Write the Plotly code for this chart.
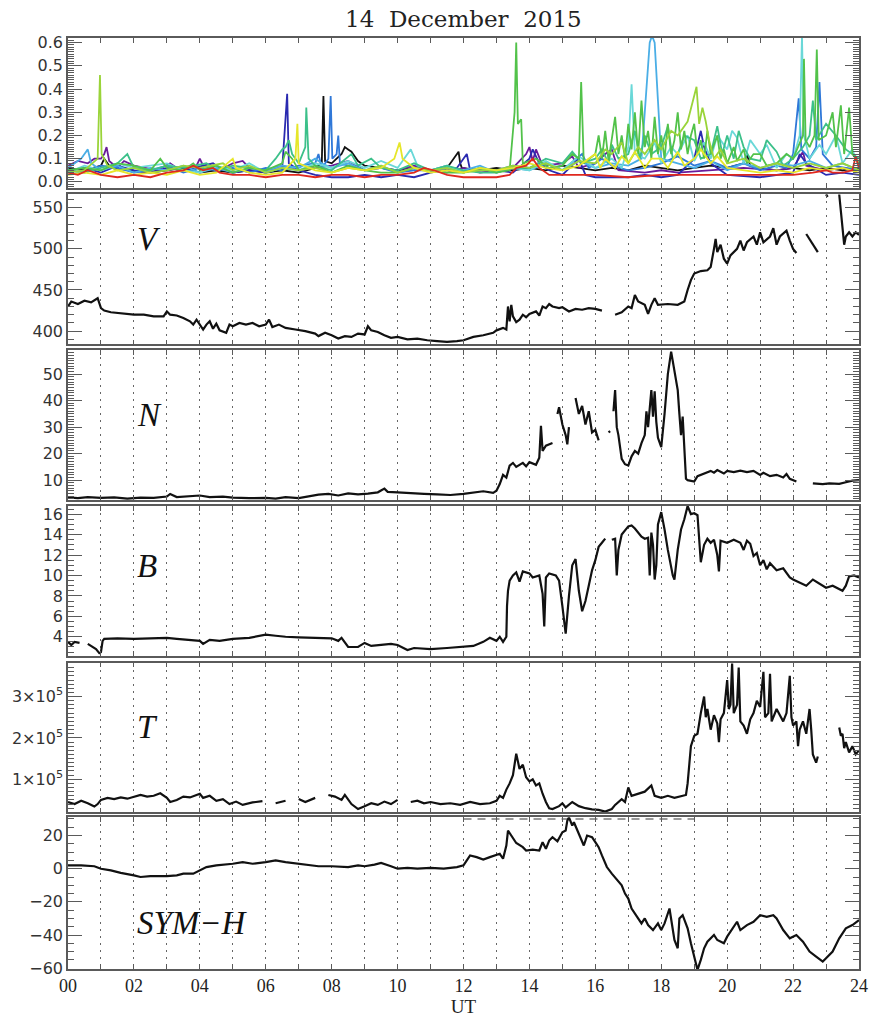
import plotly.graph_objects as go

# ---------------- DATA (hours UT) ----------------
hours_labels = ["00", "02", "04", "06", "08", "10", "12", "14", "16", "18", "20", "22", "24"]
hours_ticks = [0, 2, 4, 6, 8, 10, 12, 14, 16, 18, 20, 22, 24]

# top panel: multi-coloured series
series_black = [(0,0.06),(0.5,0.05),(1.0,0.07),(1.1,0.1),(1.3,0.06),(2,0.05),(2.5,0.04),(3,0.05),(3.5,0.06),(4,0.04),(4.5,0.05),(5,0.04),(5.5,0.05),(6,0.04),(6.5,0.05),(7,0.04),(7.5,0.06),(7.7,0.08),(7.75,0.37),(7.8,0.09),(8.0,0.08),(8.3,0.12),(8.4,0.15),(8.5,0.14),(8.6,0.13),(8.8,0.09),(9,0.07),(9.5,0.06),(10,0.05),(10.5,0.06),(11,0.05),(11.5,0.06),(11.85,0.13),(11.9,0.08),(11.95,0.06),(12.5,0.05),(13,0.06),(13.5,0.05),(14,0.06),(14.5,0.05),(15,0.07),(15.5,0.06),(16,0.05),(16.5,0.06),(17,0.05),(17.5,0.07),(18,0.06),(18.5,0.05),(19,0.06),(19.5,0.07),(20,0.06),(20.5,0.08),(20.6,0.12),(20.7,0.07),(21,0.06),(21.5,0.05),(22,0.06),(22.5,0.05),(23,0.06),(23.5,0.05),(24,0.06)]
series_purple = [(0,0.07),(0.3,0.09),(0.6,0.08),(0.8,0.1),(1.0,0.1),(1.1,0.12),(1.17,0.15),(1.25,0.09),(1.5,0.06),(1.7,0.09),(2,0.07),(2.4,0.06),(2.7,0.05),(3.1,0.08),(3.3,0.06),(3.9,0.07),(4.0,0.1),(4.1,0.07),(4.6,0.05),(5.0,0.08),(5.3,0.09),(5.5,0.06),(6,0.05),(6.5,0.07),(7,0.05),(7.5,0.06),(8,0.07),(8.5,0.09),(9,0.05),(9.5,0.06),(10,0.05),(10.5,0.07),(11,0.05),(11.5,0.04),(12,0.06),(12.5,0.04),(13,0.05),(13.5,0.06),(13.9,0.12),(14.0,0.15),(14.1,0.09),(14.2,0.14),(14.4,0.07),(15,0.08),(15.3,0.11),(15.5,0.06),(16.0,0.08),(16.3,0.12),(16.5,0.14),(16.7,0.05),(17.5,0.04),(18,0.05),(18.5,0.04),(19.5,0.05),(20.5,0.06),(21.5,0.05),(22,0.06),(22.3,0.13),(22.4,0.07),(23,0.05),(23.5,0.06),(24,0.05)]
series_darkblue = [(0,0.05),(0.5,0.06),(1,0.04),(1.5,0.07),(2,0.05),(2.5,0.04),(3,0.06),(3.5,0.05),(4.4,0.08),(4.6,0.06),(5.0,0.04),(5.5,0.05),(6,0.04),(6.5,0.06),(6.65,0.38),(6.7,0.08),(7.0,0.05),(7.5,0.03),(8,0.02),(8.5,0.02),(9,0.03),(9.5,0.02),(10,0.03),(10.5,0.02),(11,0.04),(11.8,0.06),(12.1,0.12),(12.2,0.05),(13,0.05),(13.5,0.04),(14.0,0.1),(14.1,0.14),(14.3,0.08),(14.6,0.05),(15,0.03),(15.5,0.1),(15.7,0.03),(16,0.02),(16.5,0.02),(17,0.02),(17.5,0.03),(18,0.02),(18.5,0.03),(19.0,0.1),(19.2,0.22),(19.3,0.15),(19.5,0.08),(20,0.03),(21,0.02),(21.5,0.03),(22,0.04),(22.2,0.12),(22.4,0.08),(23,0.03),(23.5,0.04),(24,0.03)]
series_blue = [(0,0.05),(0.5,0.04),(1.0,0.07),(1.5,0.06),(2.0,0.04),(2.5,0.05),(3.0,0.07),(3.5,0.04),(4.0,0.06),(4.5,0.05),(5.0,0.06),(5.5,0.04),(6.0,0.06),(6.5,0.05),(7.0,0.07),(7.5,0.08),(7.6,0.12),(7.7,0.06),(7.9,0.1),(7.97,0.37),(8.02,0.1),(8.15,0.12),(8.2,0.2),(8.25,0.08),(8.5,0.07),(9,0.05),(9.5,0.06),(10,0.04),(10.5,0.05),(11,0.05),(11.5,0.07),(12,0.04),(12.5,0.06),(13,0.05),(13.5,0.07),(14,0.06),(14.5,0.08),(15,0.05),(15.6,0.12),(15.8,0.06),(16.2,0.1),(16.5,0.07),(17,0.05),(17.5,0.06),(18,0.08),(18.5,0.11),(19,0.07),(19.5,0.09),(20,0.06),(20.5,0.08),(21,0.05),(21.5,0.07),(21.8,0.06),(22.0,0.12),(22.17,0.36),(22.25,0.14),(22.5,0.1),(22.7,0.15),(22.8,0.43),(22.9,0.12),(23.2,0.07),(23.6,0.06),(24,0.05)]
series_lightblue = [(0,0.06),(0.4,0.1),(0.6,0.14),(0.7,0.08),(1,0.05),(1.5,0.07),(2,0.04),(2.5,0.06),(3,0.05),(3.5,0.07),(4,0.04),(4.5,0.06),(5,0.04),(5.5,0.06),(6,0.05),(6.5,0.07),(7,0.06),(7.5,0.1),(7.7,0.08),(8,0.06),(8.5,0.08),(9,0.05),(9.5,0.07),(10,0.04),(10.5,0.06),(11,0.05),(11.5,0.06),(12,0.05),(12.5,0.07),(13,0.04),(13.5,0.06),(14,0.05),(14.5,0.08),(15,0.05),(15.5,0.09),(16,0.06),(16.5,0.08),(17,0.07),(17.4,0.1),(17.55,0.4),(17.65,0.6),(17.72,0.63),(17.8,0.6),(17.9,0.35),(18.0,0.1),(18.5,0.08),(19,0.06),(19.5,0.09),(20,0.05),(20.5,0.08),(21,0.06),(21.5,0.08),(22,0.07),(22.5,0.09),(23,0.06),(23.5,0.08),(24,0.05)]
series_cyan = [(0,0.04),(0.5,0.07),(1,0.05),(1.5,0.08),(2,0.06),(3,0.08),(3.5,0.05),(4,0.04),(4.5,0.07),(5,0.05),(5.5,0.08),(6,0.04),(6.5,0.06),(7,0.05),(7.5,0.08),(8,0.06),(8.5,0.09),(9,0.06),(9.5,0.09),(10,0.06),(10.4,0.14),(10.6,0.07),(11,0.05),(11.5,0.07),(12,0.04),(12.5,0.06),(13,0.04),(13.5,0.06),(14,0.05),(14.5,0.09),(15,0.05),(15.5,0.11),(16,0.06),(16.5,0.1),(16.8,0.06),(17.0,0.15),(17.1,0.42),(17.2,0.12),(17.5,0.1),(17.8,0.17),(18,0.08),(18.3,0.15),(18.5,0.12),(18.8,0.2),(19,0.09),(19.3,0.17),(19.5,0.1),(19.7,0.2),(20,0.14),(20.15,0.22),(20.3,0.19),(20.5,0.08),(20.7,0.18),(21,0.12),(21.2,0.16),(21.5,0.06),(21.8,0.12),(22,0.1),(22.2,0.2),(22.27,0.63),(22.33,0.2),(22.5,0.1),(22.8,0.16),(23,0.12),(23.3,0.2),(23.5,0.08),(23.8,0.14),(24,0.06)]
series_teal = [(0,0.05),(0.5,0.04),(1.0,0.06),(1.5,0.08),(1.8,0.12),(2,0.06),(2.5,0.05),(3.0,0.07),(3.5,0.06),(4.2,0.08),(4.5,0.05),(5.0,0.07),(5.5,0.06),(6.0,0.05),(6.3,0.1),(6.5,0.14),(6.6,0.15),(6.7,0.18),(6.8,0.12),(7.0,0.08),(7.2,0.15),(7.23,0.32),(7.3,0.1),(7.5,0.07),(8.0,0.05),(8.6,0.12),(8.8,0.07),(9.2,0.1),(9.5,0.06),(10.0,0.05),(10.5,0.08),(11,0.05),(11.5,0.07),(12,0.05),(12.5,0.04),(13,0.04),(13.5,0.06),(14,0.06),(14.5,0.1),(15,0.08),(15.3,0.13),(15.6,0.08),(16,0.1),(16.2,0.14),(16.4,0.08),(16.5,0.16),(16.7,0.1),(17,0.12),(17.2,0.22),(17.35,0.1),(17.5,0.2),(17.7,0.12),(18,0.15),(18.2,0.24),(18.35,0.1),(18.5,0.12),(18.7,0.2),(19,0.18),(19.2,0.1),(19.5,0.12),(19.7,0.24),(19.85,0.12),(20,0.2),(20.2,0.1),(20.35,0.22),(20.5,0.15),(20.7,0.1),(21,0.09),(21.2,0.18),(21.5,0.13),(21.7,0.07),(22,0.1),(22.3,0.15),(22.5,0.2),(22.6,0.35),(22.7,0.18),(23,0.25),(23.3,0.2),(23.6,0.14),(24,0.1)]
series_green = [(0,0.05),(0.5,0.06),(1,0.05),(1.5,0.08),(2,0.07),(2.5,0.05),(2.8,0.1),(3,0.06),(3.5,0.05),(3.8,0.08),(4,0.05),(4.5,0.07),(5,0.04),(5.5,0.06),(6,0.05),(6.5,0.08),(6.6,0.13),(6.8,0.1),(7,0.05),(7.5,0.07),(8,0.04),(8.5,0.07),(9,0.05),(9.5,0.04),(10,0.04),(10.5,0.06),(11,0.05),(11.5,0.04),(12,0.04),(12.5,0.06),(13,0.04),(13.4,0.05),(13.55,0.3),(13.6,0.6),(13.65,0.25),(13.75,0.27),(13.8,0.08),(14.2,0.1),(14.6,0.06),(15,0.07),(15.3,0.12),(15.5,0.1),(15.57,0.43),(15.65,0.08),(16.0,0.12),(16.1,0.2),(16.2,0.1),(16.3,0.22),(16.4,0.09),(16.5,0.18),(16.6,0.28),(16.7,0.12),(16.8,0.2),(16.9,0.1),(17.0,0.25),(17.1,0.14),(17.2,0.3),(17.3,0.12),(17.4,0.35),(17.5,0.15),(17.6,0.22),(17.7,0.1),(17.8,0.28),(17.9,0.12),(18.0,0.2),(18.1,0.1),(18.2,0.25),(18.3,0.12),(18.4,0.18),(18.5,0.3),(18.6,0.14),(18.7,0.22),(18.8,0.12),(18.9,0.2),(19.0,0.25),(19.1,0.12),(19.2,0.18),(19.3,0.1),(19.4,0.22),(19.5,0.12),(19.6,0.16),(19.7,0.2),(19.8,0.1),(19.9,0.14),(20.0,0.08),(20.2,0.15),(20.3,0.09),(20.5,0.14),(20.6,0.08),(20.8,0.12),(21,0.12),(21.2,0.07),(21.5,0.08),(21.8,0.12),(22,0.1),(22.3,0.2),(22.33,0.53),(22.38,0.18),(22.5,0.15),(22.65,0.2),(22.72,0.57),(22.78,0.18),(23,0.2),(23.2,0.3),(23.3,0.15),(23.45,0.33),(23.55,0.12),(23.7,0.32),(23.8,0.12),(24,0.08)]
series_yellowgreen = [(0,0.04),(0.5,0.05),(0.9,0.1),(0.97,0.46),(1.02,0.12),(1.2,0.07),(1.5,0.05),(2,0.06),(2.5,0.04),(3,0.05),(3.5,0.07),(4,0.06),(4.7,0.08),(5,0.05),(5.5,0.07),(6,0.04),(6.5,0.06),(7,0.05),(7.5,0.06),(8,0.04),(8.5,0.06),(9,0.05),(9.5,0.07),(10,0.04),(10.5,0.06),(11,0.05),(11.5,0.06),(12,0.04),(12.5,0.05),(13,0.05),(13.5,0.07),(14,0.06),(14.5,0.08),(15,0.05),(15.5,0.09),(16,0.08),(16.3,0.14),(16.5,0.12),(16.8,0.17),(17,0.08),(17.3,0.15),(17.5,0.12),(17.8,0.18),(18,0.14),(18.3,0.22),(18.5,0.2),(18.8,0.26),(19.0,0.38),(19.07,0.41),(19.15,0.25),(19.25,0.32),(19.35,0.26),(19.45,0.18),(19.6,0.1),(19.8,0.14),(20,0.08),(20.5,0.1),(21,0.06),(21.5,0.08),(22,0.06),(22.5,0.08),(23,0.06),(23.5,0.08),(24,0.05)]
series_yellow = [(0,0.03),(0.5,0.04),(1,0.03),(1.5,0.05),(2,0.03),(2.5,0.04),(3,0.03),(3.5,0.05),(4,0.03),(4.5,0.04),(5.0,0.1),(5.1,0.06),(5.5,0.04),(6,0.03),(6.5,0.04),(6.9,0.1),(6.96,0.25),(7.0,0.08),(7.5,0.05),(8,0.04),(8.5,0.06),(9,0.05),(9.5,0.06),(9.9,0.1),(10.06,0.17),(10.15,0.1),(10.5,0.06),(11,0.04),(11.5,0.05),(12,0.04),(12.5,0.06),(13,0.05),(13.5,0.06),(14,0.08),(14.5,0.06),(15,0.05),(15.5,0.07),(16,0.12),(16.15,0.06),(16.3,0.1),(16.6,0.06),(16.8,0.11),(17,0.08),(17.2,0.13),(17.5,0.06),(17.7,0.1),(18,0.1),(18.2,0.06),(18.5,0.13),(18.7,0.07),(19,0.1),(19.2,0.14),(19.5,0.08),(19.7,0.11),(20,0.06),(20.5,0.05),(21,0.04),(21.5,0.05),(22,0.04),(22.5,0.06),(23,0.05),(23.5,0.06),(24,0.04)]
series_red = [(0,0.04),(0.3,0.03),(0.6,0.05),(1.0,0.03),(1.5,0.02),(2.0,0.03),(2.5,0.02),(3.0,0.04),(3.5,0.05),(3.8,0.07),(4.1,0.05),(4.4,0.06),(4.6,0.04),(5,0.03),(5.5,0.03),(6,0.02),(6.5,0.03),(7,0.03),(7.5,0.02),(8,0.03),(8.5,0.03),(9,0.02),(9.5,0.03),(10,0.03),(10.5,0.04),(10.8,0.06),(11.1,0.05),(11.5,0.03),(12,0.02),(12.5,0.02),(13,0.02),(13.4,0.03),(13.6,0.06),(13.9,0.07),(14.1,0.1),(14.3,0.06),(14.6,0.03),(15,0.03),(16,0.03),(17,0.02),(18,0.03),(19,0.03),(20,0.03),(21,0.03),(22,0.03),(22.6,0.04),(23,0.05),(23.2,0.04),(23.5,0.04),(23.8,0.05),(23.9,0.11),(24,0.06)]

top_series = [
    ("black", series_black, "#111111"),
    ("purple", series_purple, "#6a1b9a"),
    ("darkblue", series_darkblue, "#2a2ab0"),
    ("blue", series_blue, "#2f78d8"),
    ("lightblue", series_lightblue, "#4aaee6"),
    ("cyan", series_cyan, "#6ad8d8"),
    ("teal", series_teal, "#3cc08a"),
    ("green", series_green, "#52c24a"),
    ("yellowgreen", series_yellowgreen, "#9ad43a"),
    ("yellow", series_yellow, "#e6e62a"),
    ("red", series_red, "#e0281e"),
]

V = [(0,430),(0.1,436),(0.3,433),(0.5,437),(0.7,435),(0.9,440),(1.0,428),(1.1,425),(1.3,423),(1.5,422),(1.8,421),(2.0,420),(2.3,420),(2.6,418),(2.9,418),(3.0,424),(3.1,420),(3.3,419),(3.5,416),(3.7,412),(3.8,408),(3.9,414),(4.1,402),(4.2,408),(4.3,412),(4.4,403),(4.5,409),(4.6,401),(4.8,398),(4.9,408),(5.0,406),(5.2,410),(5.4,408),(5.6,410),(5.8,406),(6.0,408),(6.1,414),(6.2,405),(6.4,408),(6.6,404),(6.9,402),(7.2,400),(7.5,397),(7.6,394),(7.8,398),(8.0,395),(8.2,391),(8.4,394),(8.6,393),(8.8,397),(9.0,396),(9.1,406),(9.2,401),(9.4,399),(9.6,395),(9.8,392),(10.0,393),(10.3,390),(10.6,391),(10.9,389),(11.2,388),(11.5,387),(11.8,388),(12.0,389),(12.3,393),(12.6,395),(12.9,398),(13.0,401),(13.2,404),(13.3,402),(13.35,430),(13.4,412),(13.45,432),(13.5,418),(13.6,411),(13.7,414),(13.8,420),(13.9,417),(14.0,421),(14.2,424),(14.3,419),(14.4,430),(14.5,428),(14.6,433),(14.7,430),(14.9,428),(15.0,429),(15.2,424),(15.4,427),(15.6,426),(15.8,428),(16.0,427),(16.2,425),(16.4,None),(16.6,420),(16.8,423),(17.0,430),(17.1,428),(17.2,444),(17.3,436),(17.5,432),(17.6,421),(17.7,432),(17.8,440),(17.9,432),(18.2,433),(18.5,432),(18.7,436),(18.8,450),(18.9,462),(19.0,470),(19.2,473),(19.4,474),(19.5,478),(19.6,500),(19.65,512),(19.7,496),(19.8,505),(19.9,488),(20.0,482),(20.1,492),(20.3,500),(20.4,510),(20.5,498),(20.6,508),(20.8,515),(20.9,505),(21.0,520),(21.1,508),(21.3,515),(21.4,525),(21.5,505),(21.6,515),(21.7,518),(21.8,522),(21.9,510),(22.0,500),(22.1,495),(22.2,None),(22.4,518),(22.5,512),(22.6,505),(22.7,500),(22.75,496),(22.8,None),(23.0,566),(23.05,563),(23.1,None),(23.4,566),(23.45,545),(23.5,520),(23.55,505),(23.6,515),(23.7,520),(23.8,515),(23.9,520),(24.0,517)]

N = [(0,3.5),(0.3,3.2),(0.6,3.6),(1.0,3.3),(1.4,3.5),(1.8,3.0),(2.2,3.4),(2.6,3.3),(3.0,3.8),(3.1,4.8),(3.3,3.6),(3.6,3.8),(4.0,4.2),(4.3,3.6),(4.7,3.8),(5.0,3.4),(5.5,3.2),(6.0,3.3),(6.3,3.0),(6.6,3.6),(7.0,3.2),(7.3,3.9),(7.6,4.5),(7.9,4.8),(8.2,4.2),(8.5,5.0),(8.8,4.6),(9.1,4.9),(9.4,5.4),(9.6,6.8),(9.7,5.6),(10.0,5.4),(10.4,5.0),(10.8,4.8),(11.2,4.6),(11.6,4.4),(12.0,4.8),(12.3,5.2),(12.6,5.8),(12.9,5.2),(13.0,6.0),(13.1,8.5),(13.2,12.0),(13.3,11.0),(13.4,15.5),(13.5,16.5),(13.6,15.0),(13.8,16.5),(13.9,15.2),(14.0,16.8),(14.2,15.8),(14.3,18.5),(14.35,30.5),(14.4,21.0),(14.5,23.0),(14.7,24.0),(14.8,None),(14.85,35.0),(14.9,37.5),(15.0,31.0),(15.1,27.0),(15.15,23.5),(15.2,30.0),(15.3,None),(15.4,41.0),(15.5,35.0),(15.6,38.0),(15.7,31.0),(15.8,36.0),(15.9,28.0),(16.0,29.0),(16.1,25.0),(16.2,None),(16.4,28.0),(16.45,28.5),(16.5,None),(16.55,36.0),(16.6,44.0),(16.65,30.0),(16.7,27.0),(16.8,18.0),(16.9,16.0),(17.0,15.5),(17.1,19.0),(17.2,21.0),(17.3,20.0),(17.4,24.0),(17.5,27.0),(17.55,36.0),(17.6,30.0),(17.7,44.0),(17.75,34.0),(17.8,43.5),(17.85,32.0),(17.9,26.0),(18.0,22.5),(18.1,35.0),(18.2,50.0),(18.3,58.5),(18.35,55.0),(18.4,50.0),(18.5,44.0),(18.55,35.0),(18.6,27.0),(18.65,34.0),(18.7,24.0),(18.75,10.5),(18.8,10.0),(19.0,9.5),(19.1,11.5),(19.3,12.5),(19.5,13.5),(19.6,12.8),(19.7,13.8),(19.9,12.5),(20.0,13.5),(20.2,13.0),(20.4,13.6),(20.6,13.0),(20.8,13.5),(21.0,12.0),(21.1,12.8),(21.3,11.5),(21.5,12.0),(21.7,11.0),(21.8,12.3),(21.9,10.5),(22.1,9.5),(22.4,None),(22.6,8.8),(22.9,8.5),(23.1,8.8),(23.4,8.6),(23.6,9.2),(23.8,9.8),(24.0,10.0)]

B = [(0,3.5),(0.1,3.2),(0.2,3.5),(0.35,3.4),(0.45,None),(0.6,3.3),(0.7,3.1),(0.85,2.8),(0.95,2.4),(1.0,2.5),(1.05,3.6),(1.1,3.8),(1.5,3.85),(2.0,3.8),(2.5,3.85),(3.0,3.9),(3.3,3.8),(3.6,3.7),(4.0,3.6),(4.1,3.3),(4.3,3.7),(4.6,3.6),(5.0,3.8),(5.5,3.9),(6.0,4.2),(6.3,4.1),(6.6,4.0),(7.0,3.95),(7.5,3.9),(8.0,3.85),(8.2,3.6),(8.3,3.9),(8.5,3.0),(8.8,3.0),(9.0,3.4),(9.2,3.1),(9.5,3.2),(9.8,3.3),(10.0,3.2),(10.3,2.7),(10.5,2.9),(11.0,2.8),(11.5,2.9),(12.0,3.0),(12.3,3.1),(12.6,3.5),(12.8,3.9),(13.0,3.6),(13.1,4.0),(13.2,3.5),(13.3,4.0),(13.32,7.0),(13.35,8.5),(13.4,9.5),(13.5,10.0),(13.6,10.3),(13.7,9.4),(13.8,10.4),(14.0,10.2),(14.1,9.8),(14.3,10.0),(14.4,8.2),(14.45,5.0),(14.5,9.8),(14.6,10.2),(14.8,10.0),(14.9,9.5),(15.0,7.0),(15.1,4.3),(15.2,8.0),(15.3,11.0),(15.4,11.6),(15.5,8.5),(15.6,6.5),(15.7,7.5),(15.8,9.0),(15.9,10.5),(16.0,11.5),(16.1,12.8),(16.2,13.2),(16.3,13.6),(16.4,None),(16.5,13.5),(16.6,13.6),(16.65,10.0),(16.7,12.5),(16.8,14.0),(17.0,14.8),(17.1,14.9),(17.2,14.6),(17.4,13.8),(17.5,13.6),(17.6,13.7),(17.65,10.0),(17.7,14.2),(17.75,13.0),(17.8,9.6),(17.85,11.0),(17.9,15.0),(18.0,16.2),(18.1,14.5),(18.2,12.5),(18.35,10.0),(18.4,9.6),(18.5,12.5),(18.6,14.5),(18.7,15.5),(18.8,16.8),(18.9,16.0),(19.0,16.1),(19.1,15.9),(19.2,11.3),(19.3,13.0),(19.4,13.6),(19.5,13.2),(19.6,13.5),(19.7,12.0),(19.75,10.4),(19.8,13.4),(20.0,13.2),(20.2,13.5),(20.4,13.2),(20.5,12.5),(20.6,13.4),(20.7,13.1),(20.8,11.9),(20.9,12.2),(21.0,11.0),(21.1,11.5),(21.2,10.6),(21.3,11.2),(21.5,10.5),(21.7,10.7),(21.9,9.8),(22.0,9.6),(22.2,9.3),(22.4,9.0),(22.6,9.6),(22.8,9.2),(23.0,8.8),(23.2,9.0),(23.4,8.7),(23.5,8.5),(23.6,9.0),(23.7,9.9),(23.85,10.0),(24.0,9.8)]

# temperature in units of 1e5 K
T = [(0,0.45),(0.2,0.40),(0.4,0.48),(0.6,0.42),(0.8,0.34),(0.9,0.40),(1.0,0.50),(1.2,0.55),(1.4,0.52),(1.6,0.56),(1.8,0.53),(2.0,0.58),(2.2,0.62),(2.4,0.58),(2.6,0.60),(2.8,0.66),(3.0,0.55),(3.1,0.45),(3.3,0.50),(3.5,0.58),(3.7,0.56),(3.9,0.62),(4.0,0.65),(4.1,0.55),(4.3,0.60),(4.5,0.48),(4.7,0.52),(4.9,0.40),(5.1,0.46),(5.3,0.38),(5.6,0.44),(5.9,0.47),(6.1,None),(6.3,0.42),(6.6,0.48),(6.8,None),(7.0,0.52),(7.2,0.45),(7.5,0.55),(7.7,None),(7.9,0.62),(8.1,0.58),(8.3,0.50),(8.4,0.62),(8.6,0.40),(8.8,0.28),(9.0,0.35),(9.2,0.42),(9.4,0.38),(9.6,0.46),(9.8,0.40),(10.0,0.50),(10.2,None),(10.4,0.45),(10.6,0.48),(10.8,0.42),(11.0,0.45),(11.3,0.40),(11.6,0.42),(11.9,0.38),(12.2,0.45),(12.5,0.40),(12.8,0.42),(13.0,0.48),(13.1,0.60),(13.2,0.55),(13.3,0.75),(13.4,0.90),(13.5,1.10),(13.6,1.62),(13.7,1.25),(13.8,1.35),(13.9,1.05),(14.0,0.95),(14.1,1.00),(14.2,0.85),(14.3,0.90),(14.4,0.65),(14.5,0.45),(14.6,0.30),(14.7,0.28),(14.9,0.35),(15.0,0.42),(15.1,0.32),(15.3,0.45),(15.5,0.35),(15.7,0.30),(15.9,0.27),(16.1,0.26),(16.3,0.22),(16.5,0.28),(16.6,0.38),(16.8,0.52),(16.9,0.45),(17.0,0.80),(17.1,0.60),(17.3,0.65),(17.5,0.70),(17.7,0.85),(17.8,0.60),(18.0,0.55),(18.2,0.60),(18.4,0.55),(18.6,0.58),(18.75,0.62),(18.8,0.90),(18.9,1.80),(19.0,2.05),(19.1,2.10),(19.2,2.60),(19.3,3.00),(19.35,2.50),(19.4,2.70),(19.5,2.20),(19.6,2.55),(19.7,2.35),(19.75,1.90),(19.8,2.45),(19.9,2.60),(20.0,3.40),(20.05,2.70),(20.1,2.80),(20.15,3.80),(20.2,2.60),(20.3,2.80),(20.35,3.70),(20.4,2.40),(20.5,2.30),(20.6,2.10),(20.7,2.45),(20.8,2.60),(20.9,2.90),(21.0,2.75),(21.1,3.60),(21.15,2.50),(21.25,2.60),(21.3,3.55),(21.35,2.40),(21.5,2.70),(21.6,2.55),(21.7,2.40),(21.8,2.60),(21.9,3.50),(21.95,2.50),(22.0,2.30),(22.1,2.40),(22.15,1.80),(22.2,2.20),(22.3,2.40),(22.4,2.10),(22.5,2.70),(22.55,2.20),(22.6,1.60),(22.7,1.40),(22.75,1.55),(22.8,None),(23.4,2.25),(23.45,2.05),(23.5,2.10),(23.55,1.75),(23.6,1.90),(23.7,1.65),(23.8,1.80),(23.9,1.60),(24.0,1.70)]
T_SCALE = 1e5

SYMH = [(0,2),(0.4,2),(0.8,1.5),(1.0,0),(1.3,-1),(1.6,-2.5),(2.0,-4),(2.2,-5),(2.5,-4.5),(3.0,-4.5),(3.3,-4),(3.5,-3),(3.8,-3),(4.0,-1),(4.2,1),(4.5,2),(4.8,2.5),(5.0,3),(5.3,4),(5.6,3),(6.0,4),(6.3,5),(6.6,4),(7.0,3),(7.3,2),(7.6,1.5),(8.0,1.5),(8.5,1),(8.8,2),(9.0,1.5),(9.3,2.5),(9.5,3.5),(9.8,1.5),(10.0,0),(10.3,0.5),(10.6,0),(11.0,0.5),(11.4,0),(11.8,1),(12.0,2),(12.1,5),(12.2,8),(12.4,7),(12.6,5.5),(12.8,7),(13.0,8.5),(13.1,9),(13.2,6),(13.3,14),(13.35,23),(13.45,20),(13.6,15.5),(13.8,13),(13.9,11),(14.1,11.5),(14.3,11),(14.4,16),(14.5,12),(14.6,17),(14.7,19),(14.85,16.5),(15.0,22),(15.1,23),(15.15,29),(15.2,31),(15.3,26),(15.35,28),(15.45,23),(15.55,19),(15.65,14),(15.75,20),(15.9,19),(16.0,16),(16.1,13),(16.2,8),(16.35,1),(16.5,-3),(16.7,-8),(16.8,-10),(16.9,-15),(17.0,-18),(17.1,-24),(17.2,-27),(17.3,-30),(17.4,-33),(17.5,-30),(17.6,-34),(17.75,-37),(17.9,-33),(18.0,-37),(18.1,-33),(18.25,-24),(18.3,-30),(18.4,-43),(18.5,-48),(18.55,-30),(18.65,-28),(18.8,-36),(18.9,-45),(19.0,-53),(19.1,-61),(19.2,-55),(19.3,-48),(19.4,-44),(19.6,-40),(19.7,-43),(19.9,-45),(20.0,-41),(20.2,-35),(20.3,-32),(20.4,-37),(20.6,-34),(20.8,-32),(21.0,-28),(21.2,-29),(21.4,-28),(21.5,-30),(21.7,-37),(21.9,-42),(22.1,-40),(22.3,-44),(22.5,-50),(22.7,-53),(22.9,-56),(23.0,-54),(23.2,-50),(23.4,-42),(23.6,-36),(23.8,-34),(24.0,-31)]
SYMH_REF_T = [12.0, 19.0]
SYMH_REF_V = [30, 30]

panel_labels = ["V", "N", "B", "T", "SYM−H"]
T_tickvals = [1e5, 2e5, 3e5]
T_ticktext = ["1×10<sup>5</sup>", "2×10<sup>5</sup>", "3×10<sup>5</sup>"]


def unzip(pts, scale=1.0):
    xs = [p[0] for p in pts]
    ys = [None if p[1] is None else p[1] * scale for p in pts]
    return xs, ys


# ---------------- FIGURE ----------------
W, H = 880, 1024
PL, PR = 65, 868
top_px = [38, 194, 351, 507, 664, 819]
bot_px = [188, 345, 501, 657, 814, 971]
PT, PB = top_px[0], bot_px[-1]
plot_h = PB - PT

fig = go.Figure()

for name, pts, col in top_series:
    xs, ys = unzip(pts)
    fig.add_trace(go.Scatter(x=xs, y=ys, mode="lines", line=dict(color=col, width=1.8),
                             xaxis="x", yaxis="y", showlegend=False, hoverinfo="skip"))

black_line = dict(color="#111111", width=2.2)
for i, data in enumerate([V, N, B], start=2):
    xs, ys = unzip(data)
    fig.add_trace(go.Scatter(x=xs, y=ys, mode="lines", line=black_line,
                             xaxis=f"x{i}", yaxis=f"y{i}", showlegend=False))
xs, ys = unzip(T, T_SCALE)
fig.add_trace(go.Scatter(x=xs, y=ys, mode="lines", line=black_line,
                         xaxis="x5", yaxis="y5", showlegend=False))
fig.add_trace(go.Scatter(x=SYMH_REF_T, y=SYMH_REF_V, mode="lines",
                         line=dict(color="#999999", width=2, dash="8px,6px"),
                         xaxis="x6", yaxis="y6", showlegend=False))
xs, ys = unzip(SYMH)
fig.add_trace(go.Scatter(x=xs, y=ys, mode="lines", line=black_line,
                         xaxis="x6", yaxis="y6", showlegend=False))

frame_col = "#5a5a5a"
grid_col = "#666666"
ytick_font = dict(family="DejaVu Sans, Liberation Sans, sans-serif", size=16, color="#333333")

y_specs = [
    dict(range=[-0.025, 0.62], tickvals=[0, 0.1, 0.2, 0.3, 0.4, 0.5, 0.6], ticktext=None, tickformat=".1f", minor=0.01),
    dict(range=[384, 567], tickvals=[400, 450, 500, 550], ticktext=None, tickformat=None, minor=10),
    dict(range=[2.5, 59], tickvals=[10, 20, 30, 40, 50], ticktext=None, tickformat=None, minor=1),
    dict(range=[2.15, 16.8], tickvals=[4, 6, 8, 10, 12, 14, 16], ticktext=None, tickformat=None, minor=0.5),
    dict(range=[2e4, 3.82e5], tickvals=T_tickvals, ticktext=T_ticktext, tickformat=None, minor=1e4),
    dict(range=[-60.5, 31], tickvals=[-60, -40, -20, 0, 20], ticktext=None, tickformat=None, minor=5),
]

layout = dict(
    width=W, height=H,
    margin=dict(l=PL, r=W - PR, t=PT, b=H - PB),
    paper_bgcolor="white", plot_bgcolor="white",
    showlegend=False,
)

for i in range(6):
    k = i + 1
    xname = "xaxis" if k == 1 else f"xaxis{k}"
    yname = "yaxis" if k == 1 else f"yaxis{k}"
    dom = [(PB - bot_px[i]) / plot_h, (PB - top_px[i]) / plot_h]
    show_grid = k > 1
    layout[xname] = dict(
        domain=[0, 1], anchor="y" if k == 1 else f"y{k}", range=[0, 24],
        showline=True, linecolor=frame_col, linewidth=1.6, mirror="allticks",
        ticks="inside", ticklen=5, tickcolor=frame_col, tickwidth=1,
        tickvals=hours_ticks, ticktext=hours_labels,
        showticklabels=(k == 6),
        tickfont=dict(family="Liberation Serif, Times New Roman, serif", size=18, color="#222222"),
        showgrid=show_grid, gridcolor=grid_col, gridwidth=1.3, griddash="2px,5px",
        minor=dict(dtick=1, tick0=0, ticks="inside", ticklen=5, tickcolor=frame_col,
                   showgrid=show_grid, gridcolor=grid_col, gridwidth=1.3, griddash="2px,5px"),
        zeroline=False, fixedrange=True,
    )
    if k == 6:
        layout[xname]["title"] = dict(text="UT", standoff=2,
                                      font=dict(family="Liberation Serif, Times New Roman, serif", size=19, color="#222222"))
    s = y_specs[i]
    yax = dict(
        domain=dom, anchor="x" if k == 1 else f"x{k}", range=s["range"],
        showline=True, linecolor=frame_col, linewidth=1.6, mirror="allticks",
        ticks="inside", ticklen=14, tickcolor=frame_col, tickwidth=1.3,
        tickvals=s["tickvals"], tickfont=ytick_font,
        showgrid=False, zeroline=False, fixedrange=True,
        minor=dict(dtick=s["minor"], tick0=0, ticks="inside", ticklen=6, tickcolor=frame_col, showgrid=False),
    )
    if s["ticktext"] is not None:
        yax["ticktext"] = s["ticktext"]
    if s["tickformat"] is not None:
        yax["tickformat"] = s["tickformat"]
    layout[yname] = yax

fig.update_layout(**layout)

# title
fig.add_annotation(text="14  December  2015", xref="paper", yref="paper", x=0.5, y=1,
                   yshift=19, xanchor="center", yanchor="middle", showarrow=False,
                   font=dict(family="DejaVu Serif, serif", size=23, color="#222222"))

# panel labels
label_y = [0.70, 0.57, 0.60, 0.57, 0.30]
for j, (lab, ly) in enumerate(zip(panel_labels, label_y)):
    k = j + 2
    fig.add_annotation(text=f"<i>{lab}</i>", xref=f"x{k} domain", yref=f"y{k} domain",
                       x=0.085, y=ly, xanchor="left", yanchor="middle", showarrow=False,
                       font=dict(family="Liberation Serif, Times New Roman, serif", size=33, color="#111111"))

# remove the default 8px page margin so the figure sits at the window's top-left corner
fig.write_html("out.html", config={"displayModeBar": False},
               post_script="document.body.style.margin='0px';")
